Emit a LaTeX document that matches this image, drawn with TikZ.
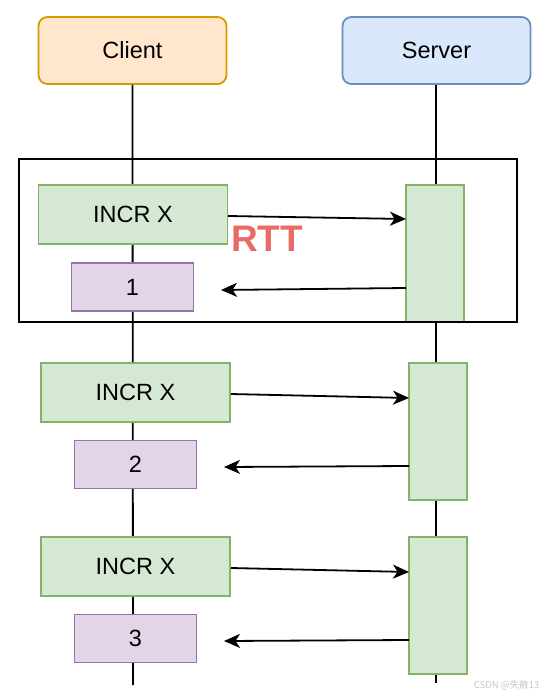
\documentclass[tikz,border=0pt]{standalone}
\usepackage{fontspec}
\setmainfont{Liberation Sans}
\newfontfamily\cjk{Noto Sans CJK SC}
\usetikzlibrary{arrows.meta}
\definecolor{gfill}{HTML}{D5E8D4}
\definecolor{gline}{HTML}{82B366}
\definecolor{pfill}{HTML}{E1D5E7}
\definecolor{pline}{HTML}{9673A6}
\definecolor{ofill}{HTML}{FFE6CC}
\definecolor{oline}{HTML}{D79B00}
\definecolor{bfill}{HTML}{DAE8FC}
\definecolor{bline}{HTML}{6C8EBF}
\definecolor{rtt}{HTML}{EA6B66}
\tikzset{
  base/.style={rectangle, inner sep=0pt, line width=1.8pt, font=\fontsize{23.5}{27}\selectfont},
  actor/.style={base, rounded corners=9pt, minimum width=188pt, minimum height=67pt},
  reqbox/.style={base, draw=gline, fill=gfill, minimum width=189pt, minimum height=59pt},
  respbox/.style={base, draw=pline, fill=pfill, minimum width=122pt, minimum height=48pt},
  actbox/.style={base, draw=gline, fill=gfill, minimum width=58pt, minimum height=137pt},
  life/.style={line width=1.8pt, black},
  msg/.style={line width=1.8pt, -{Stealth[length=16pt,width=14pt,inset=4.5pt]}},
}
\begin{document}
\begin{tikzpicture}[x=1pt,y=-1pt]
\useasboundingbox (0,0) rectangle (548,696);
% lifeline ends
\coordinate (cend) at (133,685);
\coordinate (send) at (436,683);
\node[actor, draw=oline, fill=ofill] (client) at (132.5,50.5) {Client};
\node[actor, draw=bline, fill=bfill] (server) at (436.5,50.5) {Server};
\draw[life] (client.south) -- (cend);
\draw[life] (server.south -| send) -- (send);
% group 1
\node[reqbox] (g1) at (133,214.5) {INCR X};
\node[respbox] (p1) at (132.5,287) {1};
\node[actbox] (a1) at (435,253.5) {};
\node[draw, line width=2pt, minimum width=498pt, minimum height=163pt, inner sep=0pt] (frame) at (268,240.5) {};
\node[text=rtt, font=\fontsize{37}{40}\selectfont\bfseries] (rttlabel) at (267,239) {RTT};
% group 2
\node[reqbox] (g2) at (135.5,392.5) {INCR X};
\node[respbox] (p2) at (135.5,464.5) {2};
\node[actbox] (a2) at (438,431.5) {};
% group 3
\node[reqbox] (g3) at (135.5,566.5) {INCR X};
\node[respbox] (p3) at (135.5,638.5) {3};
\node[actbox] (a3) at (438,605.5) {};
% arrow endpoints
\coordinate (s1) at (228,216);
\coordinate (t1) at (406,219);
\coordinate (b1s) at (406,288);
\coordinate (b1e) at (221,290);
\coordinate (s2) at (231,394);
\coordinate (t2) at (409,398);
\coordinate (b2s) at (409,466);
\coordinate (b2e) at (224,467);
\coordinate (s3) at (231,568);
\coordinate (t3) at (409,572);
\coordinate (b3s) at (409,640);
\coordinate (b3e) at (224,641);
\draw[msg] (s1) -- (t1);
\draw[msg] (b1s) -- (b1e);
\draw[msg] (s2) -- (t2);
\draw[msg] (b2s) -- (b2e);
\draw[msg] (s3) -- (t3);
\draw[msg] (b3s) -- (b3e);
\node[text=black!22, font=\cjk\fontsize{9.5}{11}\selectfont, anchor=east] (wm) at (543,685) {CSDN @失散13};
\end{tikzpicture}
\end{document}
